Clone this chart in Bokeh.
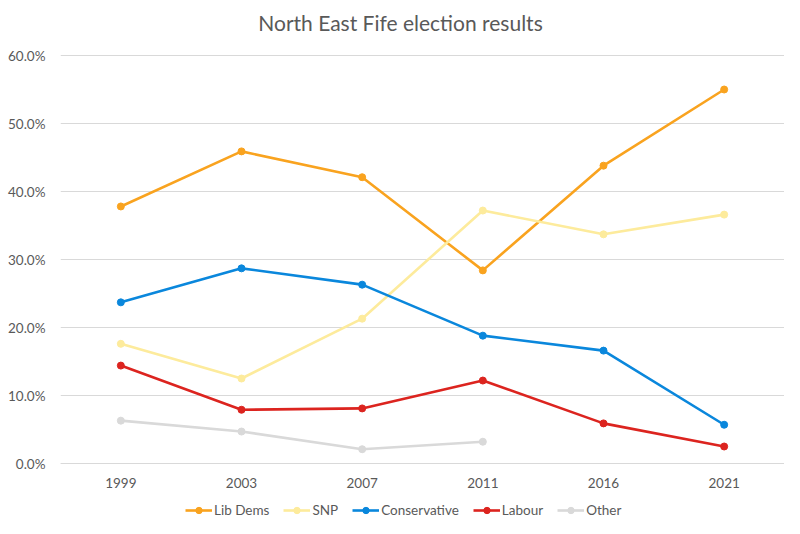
from bokeh.plotting import figure
from bokeh.models import (ColumnDataSource, Range1d, FactorRange, Legend, LegendItem,
                          PrintfTickFormatter, FixedTicker, CategoricalAxis, Label)
from bokeh.embed import file_html
from bokeh.resources import INLINE

nan = float("nan")

years = ["1999", "2003", "2007", "2011", "2016", "2021"]
lib_dems = [37.8, 45.9, 42.1, 28.4, 43.8, 55.0]
snp = [17.6, 12.5, 21.3, 37.2, 33.7, 36.6]
conservative = [23.7, 28.7, 26.3, 18.8, 16.6, 5.7]
labour = [14.4, 7.9, 8.1, 12.2, 5.9, 2.5]
other = [6.3, 4.7, 2.1, 3.2, nan, nan]

series_names = ["Lib Dems", "SNP", "Conservative", "Labour", "Other"]
series_values = [lib_dems, snp, conservative, labour, other]
series_colors = ["#F9A31F", "#FDEB9C", "#0A87DC", "#DC241F", "#D9D9D9"]
y_ticks = [0, 10, 20, 30, 40, 50, 60]
title_text = "North East Fife election results"

FONT = "Lato"
TEXT_COLOR = "#595959"

# layout in pixels: 60% line at 55, zero line at 463, figure height 518
W, H = 784, 518
TOP, ZERO = 55, 463
per_px = 60 / (ZERO - TOP)
y_end = ZERO * per_px
y_start = -(H - ZERO) * per_px

p = figure(width=W, height=H, x_range=FactorRange(*years), y_range=Range1d(y_start, y_end),
           output_backend="svg", toolbar_location=None,
           min_border_left=60, min_border_right=0, min_border_top=0, min_border_bottom=0,
           x_axis_location=None)

p.outline_line_color = None
p.xgrid.grid_line_color = None
p.ygrid.grid_line_color = "#D9D9D9"
p.ygrid.grid_line_width = 1
p.ygrid.ticker = FixedTicker(ticks=y_ticks)

p.yaxis.ticker = FixedTicker(ticks=y_ticks)
p.yaxis.formatter = PrintfTickFormatter(format="%.1f%%")
p.yaxis.axis_line_color = None
p.yaxis.major_tick_line_color = None
p.yaxis.minor_tick_line_color = None
p.yaxis.major_label_text_font = FONT
p.yaxis.major_label_text_font_size = "13.5px"
p.yaxis.major_label_text_color = TEXT_COLOR
p.yaxis.major_label_standoff = 9

xaxis = CategoricalAxis(fixed_location=0)
xaxis.axis_line_color = "#D9D9D9"
xaxis.major_tick_line_color = None
xaxis.minor_tick_line_color = None
xaxis.major_label_text_font = FONT
xaxis.major_label_text_font_size = "13.5px"
xaxis.major_label_text_color = TEXT_COLOR
xaxis.major_label_standoff = 8
p.add_layout(xaxis, "below")

title = Label(x=340, y=H - 22, x_units="screen", y_units="screen", text=title_text,
              text_align="center", text_baseline="middle", text_font=FONT,
              text_font_size="21px", text_color=TEXT_COLOR)
p.add_layout(title)

items = []
for name, vals, col in zip(series_names, series_values, series_colors):
    src = ColumnDataSource(dict(x=years, y=vals))
    r1 = p.line("x", "y", source=src, line_color=col, line_width=2.6)
    r2 = p.scatter("x", "y", source=src, size=7, fill_color=col, line_color=col)
    items.append(LegendItem(label=name, renderers=[r1, r2]))

legend = Legend(items=items, orientation="horizontal", location=(125, 0),
                border_line_color=None, background_fill_alpha=0,
                label_text_font=FONT, label_text_font_size="13.5px",
                label_text_color=TEXT_COLOR, glyph_width=27, glyph_height=16,
                spacing=14, padding=0, margin=0, label_standoff=2)
p.add_layout(legend, "center")

open("out.html", "w").write(file_html(p, INLINE))
